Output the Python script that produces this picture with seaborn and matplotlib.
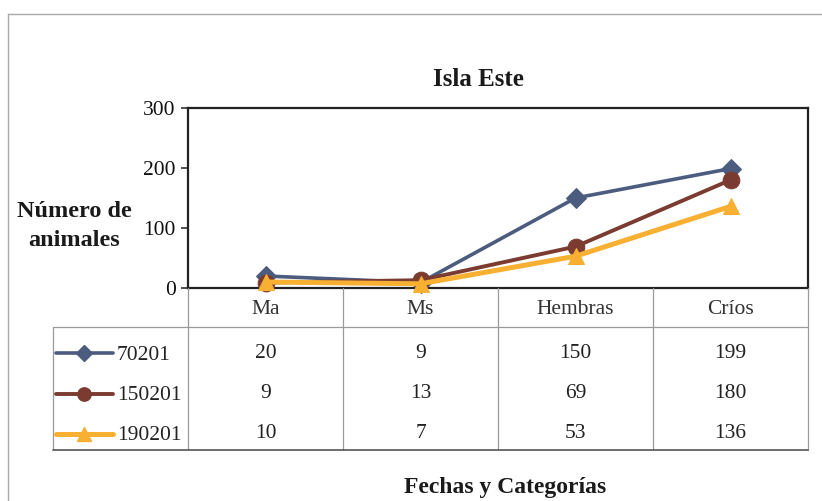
import matplotlib
matplotlib.use("Agg")
import matplotlib.pyplot as plt
from matplotlib.lines import Line2D
import seaborn as sns
import pandas as pd

categorias = ['Ma', 'Ms', 'Hembras', 'Críos']
fechas = ['70201', '150201', '190201']
valores_70201 = [20, 9, 150, 199]
valores_150201 = [9, 13, 69, 180]
valores_190201 = [10, 7, 53, 136]
yticks = [0, 100, 200, 300]

series = [valores_70201, valores_150201, valores_190201]
colores = ['#4b5c7e', '#7b3b31', '#f7b032']
marcadores = ['D', 'o', '^']
tam_marc = [10, 12, 12]
grosor = [2.6, 2.8, 3.6]

sns.set_theme(style="white")
plt.rcParams['font.family'] = ['Liberation Serif', 'DejaVu Serif']

W, H = 822, 501
fig = plt.figure(figsize=(W / 100, H / 100), dpi=100)


def box(l, t, r, b):
    return [l / W, (H - b) / H, (r - l) / W, (b - t) / H]


# grafico principal
ax = fig.add_axes(box(188, 108, 808, 288))
for nombre, vals, c, m, ms, lw in zip(fechas, series, colores, marcadores, tam_marc, grosor):
    df = pd.DataFrame({'categoria': categorias, 'valor': vals})
    sns.lineplot(data=df, x='categoria', y='valor', ax=ax, color=c, marker=m,
                 markersize=ms, linewidth=lw, markeredgecolor=c, sort=False,
                 clip_on=False, zorder=3)
ax.set_xlim(-0.5, 3.5)
ax.set_ylim(0, 300)
ax.set_yticks(yticks)
ax.set_yticklabels([str(v) for v in yticks], fontsize=15.5, color='#111111')
ax.set_xticks([])
ax.set_xlabel('')
ax.set_ylabel('')
ax.tick_params(axis='y', left=True, length=5, width=1.2, color='#333333', pad=4)
for s in ax.spines.values():
    s.set_color('#222222')
    s.set_linewidth(1.6)

fig.text(478 / W, 1 - 80 / H, 'Isla Este', ha='center', va='center',
         fontsize=18, fontweight='bold', color='#1a1a1a')
fig.text(74 / W, 1 - 226 / H, 'Número de\nanimales', ha='center', va='center',
         fontsize=17.5, fontweight='bold', color='#1a1a1a', linespacing=1.45)
fig.text(505 / W, 1 - 487 / H, 'Fechas y Categorías', ha='center', va='center',
         fontsize=17, fontweight='bold', color='#1a1a1a')

# tabla de datos
tab = fig.add_axes(box(53, 288, 808, 450))
x0 = -0.5 - 135 / 155
tab.set_xlim(x0, 3.5)
tab.set_ylim(162, 0)
tab.axis('off')


def px(p):
    return x0 + (p - 53) / 155


gris = '#9a9a9a'
for xv in [-0.5, 0.5, 1.5, 2.5, 3.5]:
    tab.plot([xv, xv], [0, 162], color=gris, lw=0.9, clip_on=False)
tab.plot([x0, x0], [39, 162], color=gris, lw=0.9, clip_on=False)
tab.plot([x0, 3.5], [39, 39], color=gris, lw=0.9, clip_on=False)
tab.plot([x0, 3.5], [162, 162], color='#555555', lw=1.2, clip_on=False)

for i, cat in enumerate(categorias):
    tab.text(i, 22, cat, ha='center', va='center', fontsize=15.5, color='#333333')

filas_y = [65, 106, 146]
for nombre, vals, c, m, ms, lw, fy in zip(fechas, series, colores, marcadores,
                                         tam_marc, grosor, filas_y):
    tab.plot([px(56), px(113)], [fy, fy], color=c, lw=lw)
    tab.plot([px(84)], [fy], color=c, marker=m, markersize=ms * 0.8,
             markeredgecolor=c)
    tab.text(px(117), fy + 2, nombre, ha='left', va='center', fontsize=15.5,
             color='#222222')
    for i, v in enumerate(vals):
        tab.text(i, fy, str(v), ha='center', va='center', fontsize=15.5,
                 color='#222222')

# marco exterior
fig.add_artist(Line2D([8 / W, 8 / W], [0, 1 - 14 / H], color='#a8a8a8', lw=1))
fig.add_artist(Line2D([8 / W, 1], [1 - 14 / H, 1 - 14 / H], color='#a8a8a8', lw=1))

fig.savefig('out.png', dpi=100)
